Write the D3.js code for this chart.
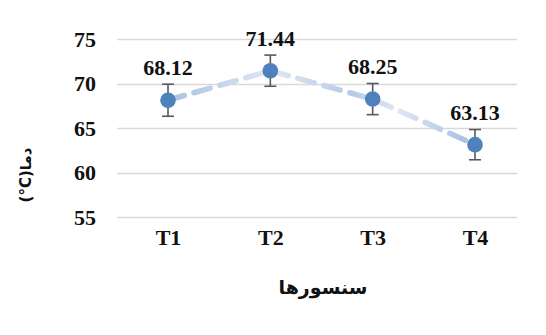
<!DOCTYPE html>
<html>
<head>
<meta charset="utf-8">
<script src="https://cdn.jsdelivr.net/npm/d3@7"></script>
<style>
  html, body { margin: 0; padding: 0; background: #fff; }
  svg { display: block; }
  .serif { font-family: "Liberation Serif", "Times New Roman", "DejaVu Serif", serif; font-weight: bold; }
</style>
</head>
<body>
<svg id="chart" width="546" height="335"></svg>
<script>
// Sensor temperature readings with error margins
const sensors = ["T1", "T2", "T3", "T4"];
const meanTemps = [68.12, 71.44, 68.25, 63.13];
const errorMargins = [1.8, 1.75, 1.75, 1.7];
const yTicks = [55, 60, 65, 70, 75];
const xTitle = "سنسورها";
const yTitle = "(°C)دما";

const plot = { left: 117, right: 517, top: 39, bottom: 217 };

const svg = d3.select("#chart");

const x = d3.scalePoint()
  .domain(sensors)
  .range([168, 475]);

const y = d3.scaleLinear()
  .domain([55, 75])
  .range([plot.bottom, plot.top]);

// Horizontal gridlines
svg.append("g")
  .selectAll("line")
  .data(yTicks)
  .join("line")
  .attr("x1", plot.left)
  .attr("x2", plot.right)
  .attr("y1", d => Math.round(y(d)) + 0.5)
  .attr("y2", d => Math.round(y(d)) + 0.5)
  .attr("stroke", "#d9d9d9")
  .attr("stroke-width", 1.3);

// Y axis tick labels
const yAxis = d3.axisLeft(y).tickValues(yTicks).tickSize(0).tickPadding(0);
svg.append("g")
  .attr("transform", `translate(96,0)`)
  .call(yAxis)
  .call(g => g.attr("font-family", null).attr("font-size", null))
  .call(g => g.select(".domain").remove())
  .call(g => g.selectAll("text")
    .attr("class", "serif")
    .style("font-size", "22px")
    .attr("fill", "#111")
    .attr("dy", "0.34em"));

// X axis category labels
const xAxis = d3.axisBottom(x).tickSize(0).tickPadding(0);
svg.append("g")
  .attr("transform", `translate(0,229)`)
  .call(xAxis)
  .call(g => g.attr("font-family", null).attr("font-size", null))
  .call(g => g.select(".domain").remove())
  .call(g => g.selectAll("text")
    .attr("class", "serif")
    .style("font-size", "22px")
    .attr("fill", "#111")
    .attr("dy", "0.71em"));

// Gradient for the dashed trend line
const defs = svg.append("defs");
const grad = defs.append("linearGradient")
  .attr("id", "trendGrad")
  .attr("gradientUnits", "userSpaceOnUse")
  .attr("x1", x("T1")).attr("x2", x("T4"))
  .attr("y1", 0).attr("y2", 0);
const span = x("T4") - x("T1");
[
  [x("T1"), "#a9c1e3"],
  [x("T2"), "#dfe8f4"],
  [x("T3") - 20, "#b7cbe7"],
  [x("T3") + 25, "#dfe8f4"],
  [x("T4"), "#a4bde1"]
].forEach(([px, c]) => grad.append("stop")
  .attr("offset", (px - x("T1")) / span)
  .attr("stop-color", c));

const points = sensors.map((s, i) => ({ s, v: meanTemps[i], e: errorMargins[i] }));

svg.append("path")
  .datum(points)
  .attr("fill", "none")
  .attr("stroke", "url(#trendGrad)")
  .attr("stroke-width", 5.5)
  .attr("stroke-dasharray", "17,10")
  .attr("stroke-linecap", "round")
  .attr("d", d3.line().x(d => x(d.s)).y(d => y(d.v)));

// Error bars
const eb = svg.append("g").attr("stroke", "#595959").attr("stroke-width", 1.6);
eb.selectAll(".stem")
  .data(points)
  .join("line")
  .attr("x1", d => x(d.s)).attr("x2", d => x(d.s))
  .attr("y1", d => y(d.v + d.e)).attr("y2", d => y(d.v - d.e));
eb.selectAll(".capTop")
  .data(points)
  .join("line")
  .attr("x1", d => x(d.s) - 6).attr("x2", d => x(d.s) + 6)
  .attr("y1", d => y(d.v + d.e)).attr("y2", d => y(d.v + d.e));
eb.selectAll(".capBot")
  .data(points)
  .join("line")
  .attr("x1", d => x(d.s) - 6).attr("x2", d => x(d.s) + 6)
  .attr("y1", d => y(d.v - d.e)).attr("y2", d => y(d.v - d.e));

// Markers
svg.append("g")
  .selectAll("circle")
  .data(points)
  .join("circle")
  .attr("cx", d => x(d.s))
  .attr("cy", d => y(d.v))
  .attr("r", 7.8)
  .attr("fill", "#4f81bd");

// Value labels
svg.append("g")
  .selectAll("text")
  .data(points)
  .join("text")
  .attr("class", "serif")
  .attr("x", d => x(d.s))
  .attr("y", d => y(d.v) - 25)
  .attr("text-anchor", "middle")
  .style("font-size", "22px")
  .attr("fill", "#111")
  .text(d => d.v.toFixed(2));

// Axis titles
svg.append("text")
  .attr("x", 323)
  .attr("y", 294)
  .attr("text-anchor", "middle")
  .attr("font-family", "'DejaVu Sans', 'Noto Sans', sans-serif")
  .attr("font-weight", "bold")
  .attr("font-size", 19)
  .attr("fill", "#111")
  .text(xTitle);

svg.append("text")
  .attr("transform", "translate(31,175) rotate(-90)")
  .attr("text-anchor", "middle")
  .attr("font-family", "'DejaVu Sans', 'Noto Sans', sans-serif")
  .attr("font-weight", "bold")
  .attr("font-size", 15)
  .attr("fill", "#111")
  .text(yTitle);
</script>
</body>
</html>
